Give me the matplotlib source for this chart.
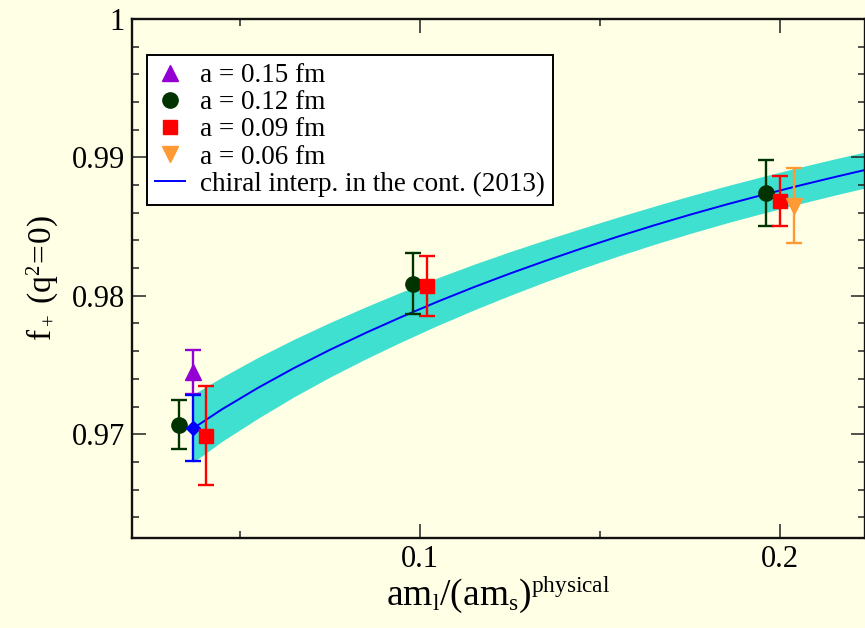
import matplotlib
matplotlib.use("Agg")
import matplotlib.pyplot as plt
import matplotlib._mathtext as _mt
from matplotlib.ticker import MultipleLocator, FixedLocator, FixedFormatter
from matplotlib.lines import Line2D

_mt.SHRINK_FACTOR = 0.62

plt.rcParams['font.family'] = ['Liberation Serif', 'DejaVu Serif']
plt.rcParams['mathtext.fontset'] = 'custom'
plt.rcParams['mathtext.rm'] = 'Liberation Serif'
plt.rcParams['mathtext.it'] = 'Liberation Serif:italic'

BG = '#FFFFE6'

# ---- data ----
a015_x = [0.0369]
a015_y = [0.97448]
a015_err = [0.0016]

a012_x = [0.0331, 0.0980, 0.1960]
a012_y = [0.97070, 0.98088, 0.98742]
a012_err = [0.0018, 0.0022, 0.0024]

a009_x = [0.0405, 0.1020, 0.2000]
a009_y = [0.96990, 0.98071, 0.98682]
a009_err = [0.0036, 0.0022, 0.0018]

a006_x = [0.2040]
a006_y = [0.98650]
a006_err = [0.0027]

phys_x = [0.0369]
phys_y = [0.97043]
phys_err = [0.0024]

curve_x = [0.0369, 0.045, 0.055, 0.065, 0.075, 0.085, 0.095, 0.105, 0.115,
           0.125, 0.135, 0.145, 0.155, 0.165, 0.175, 0.185, 0.195, 0.205,
           0.215, 0.2236]
curve_y = [0.97041, 0.97180, 0.97335, 0.97478, 0.97610, 0.97733, 0.97849,
           0.97959, 0.98063, 0.98161, 0.98254, 0.98343, 0.98428, 0.98509,
           0.98586, 0.98659, 0.98728, 0.98794, 0.98857, 0.98909]
band_half = [0.00245, 0.00232, 0.00220, 0.00208, 0.00197, 0.00188, 0.00180,
             0.00172, 0.00165, 0.00158, 0.00151, 0.00145, 0.00141, 0.00138,
             0.00136, 0.00134, 0.00133, 0.00132, 0.00131, 0.00130]

labels = ['a = 0.15 fm', 'a = 0.12 fm', 'a = 0.09 fm', 'a = 0.06 fm',
          'chiral interp. in the cont. (2013)']
ytick_vals = [0.97, 0.98, 0.99, 1.0]
ytick_labels = ['0.97', '0.98', '0.99', '1']
xtick_vals = [0.1, 0.2]
xtick_labels = ['0.1', '0.2']

# ---- figure ----
fig = plt.figure(figsize=(8.65, 6.28), dpi=100, facecolor=BG)
ax = fig.add_axes([132/865, 1-538/628, 1-132/865, (538-19)/628])
ax.set_facecolor(BG)

lo = [c - h for c, h in zip(curve_y, band_half)]
hi = [c + h for c, h in zip(curve_y, band_half)]
ax.fill_between(curve_x, lo, hi, color='#40E0D0', lw=0, zorder=1)
ax.plot(curve_x, curve_y, color='#0000FF', lw=1.4, zorder=2)

ekw = dict(capsize=5.6, elinewidth=1.7, capthick=1.7, ls='none', zorder=3)
ax.errorbar(a015_x, a015_y, yerr=a015_err, fmt='^', color='#9400D3', ms=11, **ekw)
ax.errorbar(a012_x, a012_y, yerr=a012_err, fmt='o', color='#003300', ms=11, **ekw)
ax.errorbar(phys_x, phys_y, yerr=phys_err, fmt='D', color='#0000FF', ms=7, **ekw)
ax.errorbar(a009_x, a009_y, yerr=a009_err, fmt='s', color='#FF0000', ms=9.5, **ekw)
ax.errorbar(a006_x, a006_y, yerr=a006_err, fmt='v', color='#FF9933', ms=11, **ekw)

ax.set_xlim(0.02, 0.2236)
ax.set_ylim(0.9625, 1.0)

ax.xaxis.set_major_locator(FixedLocator(xtick_vals))
ax.xaxis.set_major_formatter(FixedFormatter(xtick_labels))
ax.xaxis.set_minor_locator(MultipleLocator(0.05))
ax.yaxis.set_major_locator(FixedLocator(ytick_vals))
ax.yaxis.set_major_formatter(FixedFormatter(ytick_labels))
ax.yaxis.set_minor_locator(MultipleLocator(0.002))

ax.tick_params(which='both', direction='in', top=True, right=True, color='#222222')
ax.tick_params(which='major', length=10, width=1.1, labelsize=22)
ax.tick_params(which='minor', length=5, width=1.1)
ax.tick_params(axis='x', which='major', pad=5)
ax.tick_params(axis='y', which='major', pad=5)
for s in ax.spines.values():
    s.set_linewidth(1.7)
    s.set_color('#111111')

ax.set_xlabel(r'$\mathrm{am_l/(am_s)^{physical}}$', fontsize=27)
ax.set_ylabel(r'$\mathrm{f_+\ (q^2\!=\!0)}$', fontsize=24)
ax.xaxis.set_label_coords(0.5, (538 - 574) / 519)
ax.yaxis.set_label_coords((60 - 132) / 733, 0.5)

handles = [
    Line2D([], [], ls='none', marker='^', color='#9400D3', ms=11),
    Line2D([], [], ls='none', marker='o', color='#003300', ms=11),
    Line2D([], [], ls='none', marker='s', color='#FF0000', ms=9.5),
    Line2D([], [], ls='none', marker='v', color='#FF9933', ms=11),
    Line2D([], [], color='#0000FF', lw=1.4),
]
leg = ax.legend(handles, labels, loc='upper left',
                bbox_to_anchor=((147-132)/733, (538-55)/519),
                fontsize=19.5, frameon=True, fancybox=False, framealpha=1,
                edgecolor='black', borderpad=0.3, labelspacing=0.08,
                handlelength=1.1, handletextpad=0.55, borderaxespad=0)
leg.get_frame().set_linewidth(1.4)

fig.savefig('out.png', dpi=100, facecolor=BG)
